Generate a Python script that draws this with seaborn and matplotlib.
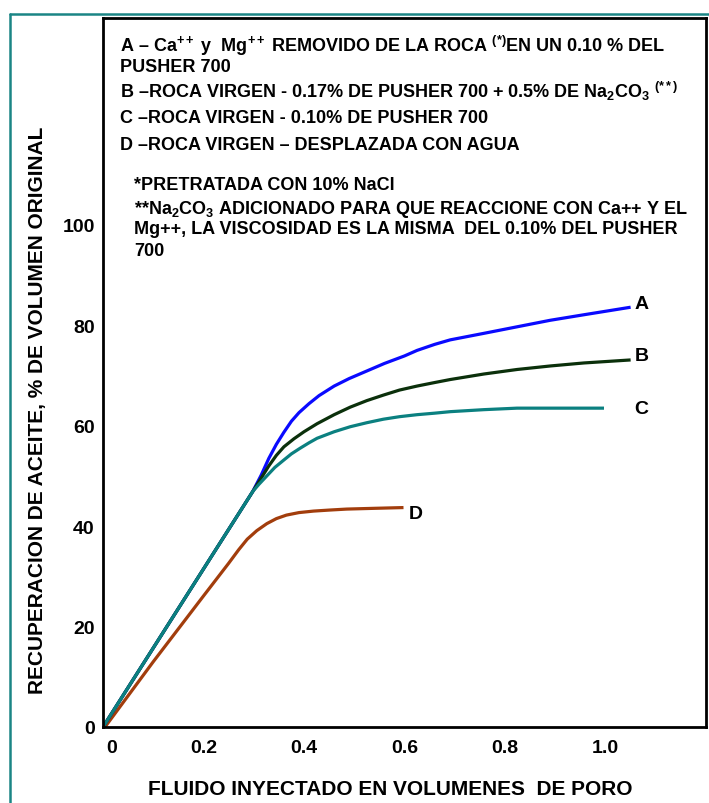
import numpy as np
import pandas as pd
import seaborn as sns
import matplotlib.pyplot as plt
import matplotlib.transforms as mtransforms
from matplotlib.lines import Line2D

# --- data: oil recovery vs injected pore volumes ---
common_x = [0.0, 0.298]
common_y = [0.0, 46.9]

a_x = common_x + [0.315, 0.330, 0.345, 0.360, 0.375, 0.390, 0.410, 0.430, 0.460, 0.490,
                  0.525, 0.560, 0.600, 0.625, 0.660, 0.691, 0.758, 0.824, 0.890, 0.957, 1.050]
a_y = common_y + [50.2, 53.5, 56.3, 58.7, 60.9, 62.6, 64.4, 66.0, 67.9, 69.4,
                  70.9, 72.4, 73.9, 75.0, 76.2, 77.1, 78.4, 79.7, 81.0, 82.1, 83.6]

b_x = common_x + [0.315, 0.330, 0.345, 0.360, 0.380, 0.400, 0.426, 0.460, 0.492, 0.525,
                  0.558, 0.590, 0.625, 0.660, 0.691, 0.758, 0.824, 0.890, 0.957, 1.050]
b_y = common_y + [49.6, 52.0, 54.1, 55.8, 57.4, 58.8, 60.4, 62.2, 63.7, 65.0,
                  66.1, 67.1, 67.9, 68.6, 69.2, 70.3, 71.2, 71.9, 72.5, 73.1]

c_x = common_x + [0.310, 0.326, 0.342, 0.359, 0.375, 0.392, 0.410, 0.426, 0.460, 0.492,
                  0.525, 0.558, 0.590, 0.625, 0.660, 0.691, 0.758, 0.824, 0.900, 0.997]
c_y = common_y + [48.3, 50.0, 51.7, 53.1, 54.4, 55.5, 56.6, 57.5, 58.8, 59.8,
                  60.6, 61.3, 61.8, 62.2, 62.5, 62.8, 63.2, 63.5, 63.5, 63.5]

d_x = [0.004, 0.100, 0.200, 0.250, 0.270, 0.287, 0.306, 0.326, 0.345, 0.365,
       0.390, 0.419, 0.450, 0.485, 0.540, 0.598]
d_y = [0.0, 13.0, 26.1, 32.6, 35.3, 37.4, 39.1, 40.5, 41.5, 42.2,
       42.7, 43.0, 43.2, 43.4, 43.55, 43.7]

curves = {"A": (a_x, a_y), "B": (b_x, b_y), "C": (c_x, c_y), "D": (d_x, d_y)}
colors = {"A": "#0a0aff", "B": "#0b300b", "C": "#0b8080", "D": "#a23d0c"}

x_ticks = [0, 0.2, 0.4, 0.6, 0.8, 1.0]
x_tick_labels = ["0", "0.2", "0.4", "0.6", "0.8", "1.0"]
y_ticks = [0, 20, 40, 60, 80, 100]

notes = [
    (r"A – Ca$^{++}$ y  Mg$^{++}$ REMOVIDO DE LA ROCA $^{(*)}$EN UN 0.10 % DEL", 120, 51.5),
    ("PUSHER 700", 120, 71.5),
    (r"B –ROCA VIRGEN - 0.17% DE PUSHER 700 + 0.5% DE Na$_2$CO$_3$ $^{(**)}$", 120, 98),
    ("C –ROCA VIRGEN - 0.10% DE PUSHER 700", 120, 123),
    ("D –ROCA VIRGEN – DESPLAZADA CON AGUA", 120, 149.5),
    ("*PRETRATADA CON 10% NaCl", 134, 189.5),
    (r"**Na$_2$CO$_3$ ADICIONADO PARA QUE REACCIONE CON Ca++ Y EL", 134, 214.5),
    ("Mg++, LA VISCOSIDAD ES LA MISMA  DEL 0.10% DEL PUSHER", 134, 234.5),
    ("700", 134, 256.5),
]

# --- style ---
sns.set_theme(style="white")
plt.rcParams["font.family"] = ["Liberation Sans", "DejaVu Sans"]
plt.rcParams["font.weight"] = "bold"
plt.rcParams["mathtext.fontset"] = "custom"
plt.rcParams["mathtext.rm"] = "Liberation Sans:bold"
plt.rcParams["mathtext.it"] = "Liberation Sans:bold"
plt.rcParams["mathtext.bf"] = "Liberation Sans:bold"
plt.rcParams["mathtext.default"] = "rm"

W, H = 709, 804
fig = plt.figure(figsize=(W / 100, H / 100), dpi=100)
ax = fig.add_axes([103 / W, 1 - 728 / H, (706 - 103) / W, (728 - 19) / H])

rows = []
for name, (xs, ys) in curves.items():
    for x, y in zip(xs, ys):
        rows.append({"curva": name, "x": x, "y": y})
df = pd.DataFrame(rows)

sns.lineplot(data=df, x="x", y="y", hue="curva", hue_order=["D", "A", "B", "C"],
             palette=colors, estimator=None, sort=False, linewidth=2.3,
             legend=False, ax=ax)
for ln in ax.get_lines():
    ln.set_solid_joinstyle("round")
    ln.set_solid_capstyle("butt")

ax.set_xlim(0, 1.2)
ax.set_ylim(0, 141.2)
ax.set_xticks(x_ticks)
ax.set_xticklabels(x_tick_labels)
ax.set_yticks(y_ticks)
ax.tick_params(axis="both", direction="in", length=8.6, width=1.5, color="black",
               labelsize=14, labelcolor="black")
ax.tick_params(axis="x", pad=9)
ax.tick_params(axis="y", pad=6)
for sp in ax.spines.values():
    sp.set_visible(True)
    sp.set_color("black")
    sp.set_linewidth(2.0)

# nudge the x "0" label off the corner
first = ax.get_xticklabels()[0]
first.set_transform(first.get_transform() +
                    mtransforms.ScaledTranslation(6 / 72, 0, fig.dpi_scale_trans))

ax.set_xlabel("FLUIDO INYECTADO EN VOLUMENES  DE PORO", fontsize=15,
              fontweight="bold", color="black")
ax.set_ylabel("RECUPERACION DE ACEITE, % DE VOLUMEN ORIGINAL", fontsize=15,
              fontweight="bold", color="black")
ax.xaxis.set_label_coords((390 - 103) / 603, (728 - 790) / 709)
ax.xaxis.label.set_va("center")
ax.yaxis.set_label_coords((38 - 103) / 603, (728 - 410) / 709)
ax.yaxis.label.set_va("center")

# curve end labels
label_offsets = {"A": (3, 3), "B": (3, 3.5), "C": (22, 0), "D": (4, -4)}
for name, (xs, ys) in curves.items():
    ax.annotate(name, xy=(xs[-1], ys[-1]), xytext=label_offsets[name],
                textcoords="offset points", ha="left", va="center",
                fontsize=14, fontweight="bold", color="black")

# notes block
for text, px, py in notes:
    fig.text(px / W, 1 - py / H, text, fontsize=13, fontweight="bold",
             color="black", ha="left", va="baseline")

# page frame lines
teal = "#1a8585"
fig.add_artist(Line2D([10 / W, 10 / W], [0, 1 - 15 / H], color=teal, lw=1.8,
                      transform=fig.transFigure))
fig.add_artist(Line2D([10 / W, 1], [1 - 15 / H, 1 - 15 / H], color=teal, lw=1.8,
                      transform=fig.transFigure))

fig.savefig("out.png", dpi=100)
